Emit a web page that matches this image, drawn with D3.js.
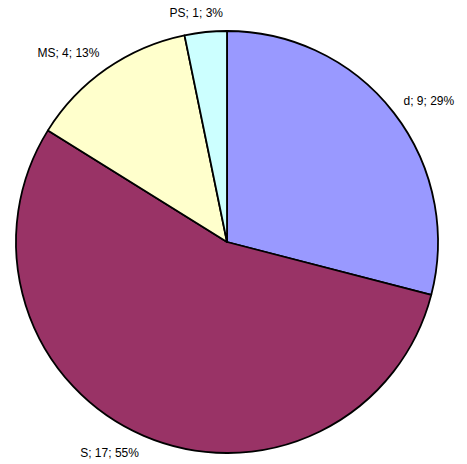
<!DOCTYPE html>
<html>
<head>
<meta charset="utf-8">
<script src="https://cdn.jsdelivr.net/npm/d3@7"></script>
<style>
  body { margin: 0; background: #fff; }
  text { font-family: "Liberation Sans", Arial, sans-serif; font-size: 12px; fill: #000; }
</style>
</head>
<body>
<div id="chart"></div>
<script>
const categories = ['d', 'S', 'MS', 'PS']
const values = [9, 17, 4, 1]

const colors = ['#9999FF', '#993366', '#FFFFCC', '#CCFFFF']

const width = 467
const height = 464
const cx = 227, cy = 242, radius = 211

const total = d3.sum(values)
const data = categories.map((c, i) => ({ category: c, value: values[i] }))

const pie = d3.pie()
    .value(d => d.value)
    .sort(null)

const arc = d3.arc()
    .innerRadius(0)
    .outerRadius(radius)

const svg = d3.select('#chart')
    .append('svg')
    .attr('width', width)
    .attr('height', height)

const g = svg.append('g')
    .attr('transform', `translate(${cx},${cy})`)

const arcs = pie(data)

g.selectAll('path.slice')
    .data(arcs)
    .join('path')
    .attr('class', 'slice')
    .attr('d', arc)
    .style('fill', (d, i) => colors[i])
    .style('stroke', '#000')
    .style('stroke-width', 1.8)
    .style('stroke-linejoin', 'round')

// labels outside each slice
const labels = g.selectAll('text.lbl')
    .data(arcs)
    .join('text')
    .attr('class', 'lbl')
    .text(d => `${d.data.category}; ${d.data.value}; ${Math.round(d.data.value / total * 100)}%`)

labels.each(function (d) {
    const box = this.getBBox()
    const a = (d.startAngle + d.endAngle) / 2
    const s = Math.sin(a), c = Math.cos(a)
    const r = radius + 12
    const px = r * s, py = -r * c
    const hx = Math.max(-1, Math.min(1, s * 3))
    const x = px + hx * box.width / 2
    const y = py - c * 7
    d3.select(this)
        .attr('x', x)
        .attr('y', y)
        .attr('text-anchor', 'middle')
        .attr('dominant-baseline', 'central')
})
</script>
</body>
</html>
